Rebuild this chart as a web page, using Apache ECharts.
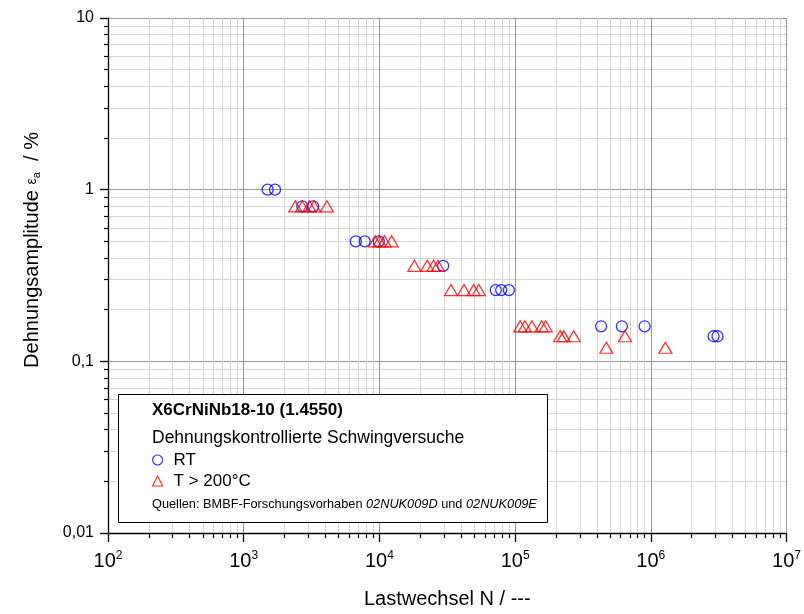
<!DOCTYPE html>
<html><head><meta charset="utf-8">
<script src="https://cdn.jsdelivr.net/npm/echarts@6/dist/echarts.min.js"></script>
<style>html,body{margin:0;padding:0;background:#fff}#c{width:804px;height:614px}</style>
</head><body><div id="c"></div>
<script>
// RT (room temperature) tests
const rtCycles    = [1500, 1700, 2700, 3250, 6700, 7800, 9900, 29500, 72000, 79000, 90000, 430000, 612000, 900000, 2900000, 3100000];
const rtAmplitude = [1.0, 1.0, 0.8, 0.8, 0.5, 0.5, 0.5, 0.36, 0.26, 0.26, 0.26, 0.16, 0.16, 0.16, 0.14, 0.14];
// T > 200 °C tests
const hotCycles    = [2400, 2700, 3050, 3300, 4100, 9300, 10000, 10900, 12300, 18100, 22500, 25000, 27000, 33700, 42000, 49500, 54000, 109000, 118000, 133000, 157000, 168000, 215000, 228000, 270000, 470000, 645000, 1280000];
const hotAmplitude = [0.8, 0.8, 0.8, 0.8, 0.8, 0.5, 0.5, 0.5, 0.5, 0.36, 0.36, 0.36, 0.36, 0.26, 0.26, 0.26, 0.26, 0.16, 0.16, 0.16, 0.16, 0.16, 0.14, 0.14, 0.14, 0.12, 0.14, 0.12];

const xRange = [100, 1e7];
const yRange = [0.01, 10];
const seriesNames = ['RT', 'T > 200°C'];
const boxTitle = 'X6CrNiNb18-10 (1.4550)';
const boxSubtitle = 'Dehnungskontrollierte Schwingversuche';
const xName = 'Lastwechsel N / ---';

function minorLogPositions(lo, hi) {
  const out = [];
  for (let e = Math.round(Math.log10(lo)); e < Math.round(Math.log10(hi)); e++) {
    for (let m = 2; m <= 9; m++) out.push(e + Math.log10(m));
  }
  return out;
}
const zip = (a, b) => a.map((v, i) => [v, b[i]]);

const chart = echarts.init(document.getElementById('c'), null, {renderer: 'canvas'});
const FONT = 'Liberation Sans, Arial, sans-serif';
const BLUE = '#0000ff', RED = '#ff0000';

chart.setOption({
  backgroundColor: '#fff',
  animation: false,
  textStyle: {fontFamily: FONT},
  grid: {left: 108, right: 11, top: 18, bottom: 80},
  xAxis: [{
    type: 'log', logBase: 10, min: xRange[0], max: xRange[1],
    position: 'bottom',
    name: xName, nameLocation: 'middle', nameGap: 56,
    nameTextStyle: {fontSize: 20, color: '#000', fontFamily: FONT},
    axisLine: {show: true, onZero: false, lineStyle: {color: '#000', width: 1.3}},
    axisTick: {show: true, inside: false, length: 9, lineStyle: {color: '#000', width: 1.3}},
    axisLabel: {
      margin: 17, color: '#000',
      formatter: v => '{b|10}{s|' + Math.round(Math.log10(v)) + '}',
      rich: {b: {fontSize: 20, fontFamily: FONT, color: '#000'},
             s: {fontSize: 12, fontFamily: FONT, color: '#000', padding: [0, 0, 10, 0]}}
    },
    splitLine: {show: true, lineStyle: {color: '#999', width: 1}}
  }, {
    type: 'value', min: 2, max: 7, position: 'bottom',
    axisLine: {show: false, onZero: false},
    axisTick: {show: true, inside: false, length: 5, customValues: minorLogPositions(xRange[0], xRange[1]), lineStyle: {color: '#000', width: 1.2}},
    axisLabel: {show: false},
    splitLine: {show: true, lineStyle: {color: '#d6d6d6', width: 1}}
  }],
  yAxis: [{
    type: 'log', logBase: 10, min: yRange[0], max: yRange[1],
    position: 'left',
    axisLine: {show: true, onZero: false, lineStyle: {color: '#000', width: 1.3}},
    axisTick: {show: true, inside: false, length: 8, lineStyle: {color: '#000', width: 1.3}},
    axisLabel: {margin: 14, fontSize: 16, color: '#000', fontFamily: FONT,
      formatter: v => String(v).replace('.', ',')},
    splitLine: {show: true, lineStyle: {color: '#999', width: 1}}
  }, {
    type: 'value', min: -2, max: 1, position: 'left',
    axisLine: {show: false, onZero: false},
    axisTick: {show: true, inside: false, length: 4, customValues: minorLogPositions(yRange[0], yRange[1]), lineStyle: {color: '#000', width: 1.2}},
    axisLabel: {show: false},
    splitLine: {show: true, lineStyle: {color: '#d6d6d6', width: 1}}
  }],
  legend: {
    orient: 'vertical', left: 152, top: 451, padding: 0,
    itemWidth: 10, itemHeight: 10, itemGap: 3, z: 120,
    textStyle: {fontSize: 17, color: '#000', fontFamily: FONT, lineHeight: 18, padding: [0, 0, 0, 6]},
    data: [
      {name: seriesNames[0], icon: 'circle', itemStyle: {color: 'rgba(0,0,0,0)', borderColor: BLUE, borderWidth: 1.2}},
      {name: seriesNames[1], icon: 'triangle', itemStyle: {color: 'rgba(0,0,0,0)', borderColor: RED, borderWidth: 1.2}}
    ]
  },
  graphic: [
    {type: 'rect', z: 100, shape: {x: 118.5, y: 394.5, width: 429, height: 128},
     style: {fill: '#fff', stroke: '#000', lineWidth: 1}},
    {type: 'text', z: 110, x: 152, y: 410,
     style: {text: boxTitle, fontSize: 17, fontWeight: 'bold', fontFamily: FONT, fill: '#000', verticalAlign: 'middle'}},
    {type: 'text', z: 110, x: 152, y: 438,
     style: {text: boxSubtitle, fontSize: 17.5, fontFamily: FONT, fill: '#000', verticalAlign: 'middle'}},
    {type: 'text', z: 110, x: 152, y: 504,
     style: {text: '{n|Quellen: BMBF-Forschungsvorhaben }{i|02NUK009D}{n| und }{i|02NUK009E}',
             verticalAlign: 'middle',
             rich: {n: {fontSize: 12.75, fontFamily: FONT, color: '#000'},
                    i: {fontSize: 12.75, fontFamily: FONT, fontStyle: 'italic', color: '#000'}}}},
    {type: 'text', z: 110, x: 32, y: 250, rotation: Math.PI / 2,
     style: {text: '{m|Dehnungsamplitude }{e|ε}{s|a}{m|  / %}',
             align: 'center', verticalAlign: 'middle',
             rich: {m: {fontSize: 20, fontFamily: FONT, color: '#000'},
                    e: {fontSize: 14, fontFamily: FONT, color: '#000'},
                    s: {fontSize: 11, fontFamily: FONT, color: '#000', padding: [10, 0, 0, 0]}}}}
  ],
  series: [{
    name: seriesNames[0], type: 'scatter', xAxisIndex: 0, yAxisIndex: 0,
    symbol: 'circle', symbolSize: 11,
    itemStyle: {color: 'rgba(0,0,0,0)', borderColor: BLUE, borderWidth: 1.3},
    data: zip(rtCycles, rtAmplitude), z: 5
  }, {
    name: seriesNames[1], type: 'scatter', xAxisIndex: 0, yAxisIndex: 0,
    symbol: 'triangle', symbolSize: [13, 11],
    itemStyle: {color: 'rgba(0,0,0,0)', borderColor: RED, borderWidth: 1.3},
    data: zip(hotCycles, hotAmplitude), z: 5
  }]
});
</script></body></html>
